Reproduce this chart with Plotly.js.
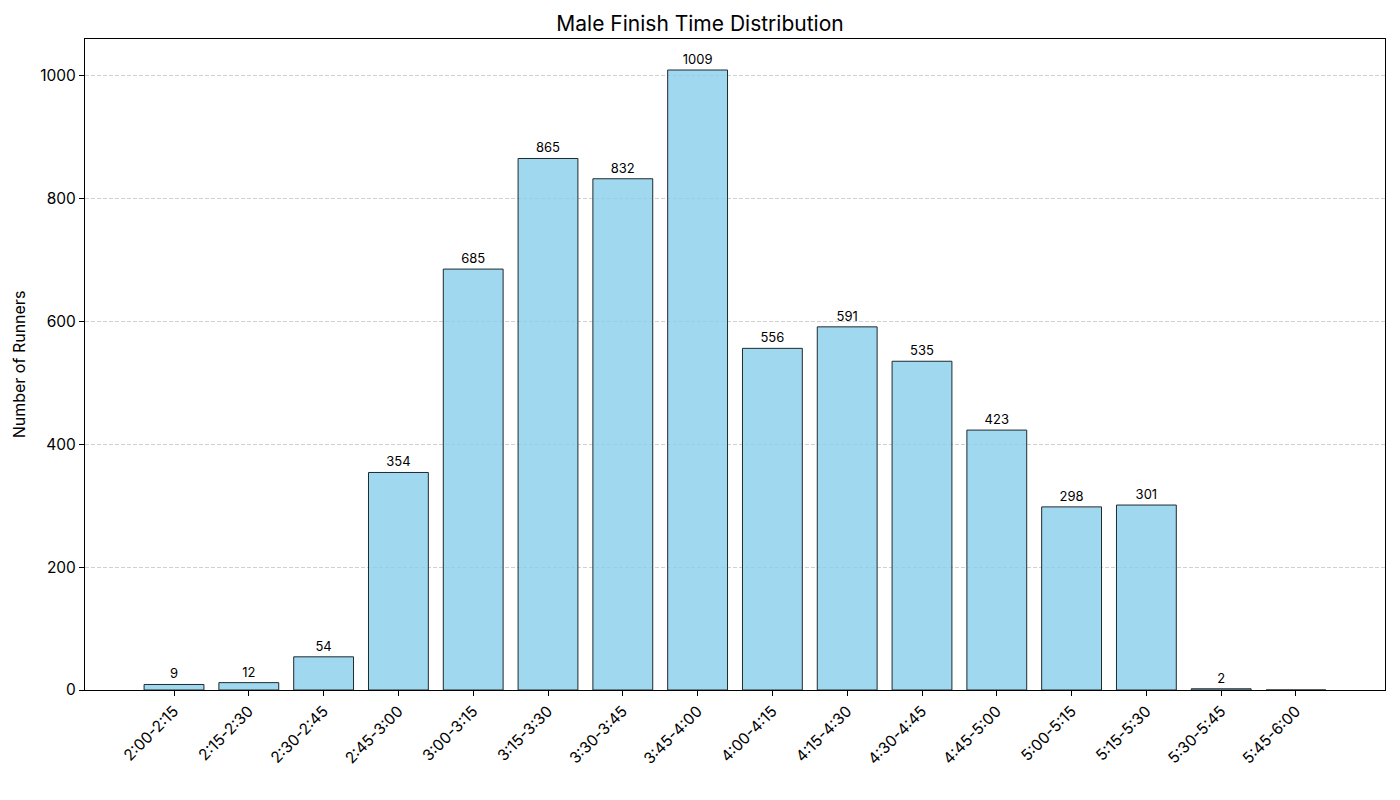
<!DOCTYPE html>
<html>
<head>
<meta charset="utf-8">
<script src="https://cdn.plot.ly/plotly-3.0.1.min.js"></script>
<style>html,body{margin:0;padding:0;background:#fff;}#chart{width:1400px;height:800px;}</style>
</head>
<body>
<div id="chart"></div>
<script>
const categories = ["2:00-2:15","2:15-2:30","2:30-2:45","2:45-3:00","3:00-3:15","3:15-3:30","3:30-3:45","3:45-4:00","4:00-4:15","4:15-4:30","4:30-4:45","4:45-5:00","5:00-5:15","5:15-5:30","5:30-5:45","5:45-6:00"];
const runners = [9, 12, 54, 354, 685, 865, 832, 1009, 556, 591, 535, 423, 298, 301, 2, 0];
const yTicks = [0, 200, 400, 600, 800, 1000];

const font = "Inter, 'Open Sans', 'DejaVu Sans', sans-serif";
const xIdx = categories.map((c, i) => i);

const trace = {
  type: 'bar',
  x: xIdx,
  y: runners,
  width: 0.8,
  marker: { color: 'rgba(135,206,235,0.8)', line: { color: '#1f2a30', width: 1 } },
  text: runners.map(v => v > 0 ? String(v) : ''),
  textposition: 'outside',
  cliponaxis: false,
  textfont: { family: font, size: 13, color: '#000' },
  hoverinfo: 'x+y'
};

const layout = {
  width: 1400, height: 800,
  margin: { l: 85, r: 15, t: 39, b: 110 },
  paper_bgcolor: '#fff', plot_bgcolor: '#fff',
  font: { family: font, color: '#000' },
  title: { text: 'Male Finish Time Distribution', font: { family: font, size: 21, color: '#000' }, x: 0.5, xanchor: 'center', y: 0.97, yanchor: 'middle' },
  showlegend: false,
  bargap: 0.2,
  xaxis: {
    range: [-1.19, 16.19],
    tickmode: 'array', tickvals: xIdx, ticktext: categories,
    tickangle: -45,
    ticks: 'outside', ticklen: 5, tickcolor: '#000',
    tickfont: { family: font, size: 15.5, color: '#000' },
    showline: true, linecolor: '#000', linewidth: 1, mirror: true,
    showgrid: false, zeroline: false
  },
  yaxis: {
    range: [0, 1059.45],
    tickmode: 'array', tickvals: yTicks, ticktext: yTicks.map(String),
    ticks: 'outside', ticklen: 5, tickcolor: '#000',
    tickfont: { family: font, size: 15.5, color: '#000' },
    title: { text: 'Number of Runners', font: { family: font, size: 16, color: '#000' }, standoff: 10 },
    showline: true, linecolor: '#000', linewidth: 1, mirror: true,
    showgrid: true, gridcolor: '#d0d0d0', griddash: '4px,2px', gridwidth: 1,
    zeroline: false
  }
};

Plotly.newPlot('chart', [trace], layout, { displayModeBar: false, staticPlot: true });
</script>
</body>
</html>
